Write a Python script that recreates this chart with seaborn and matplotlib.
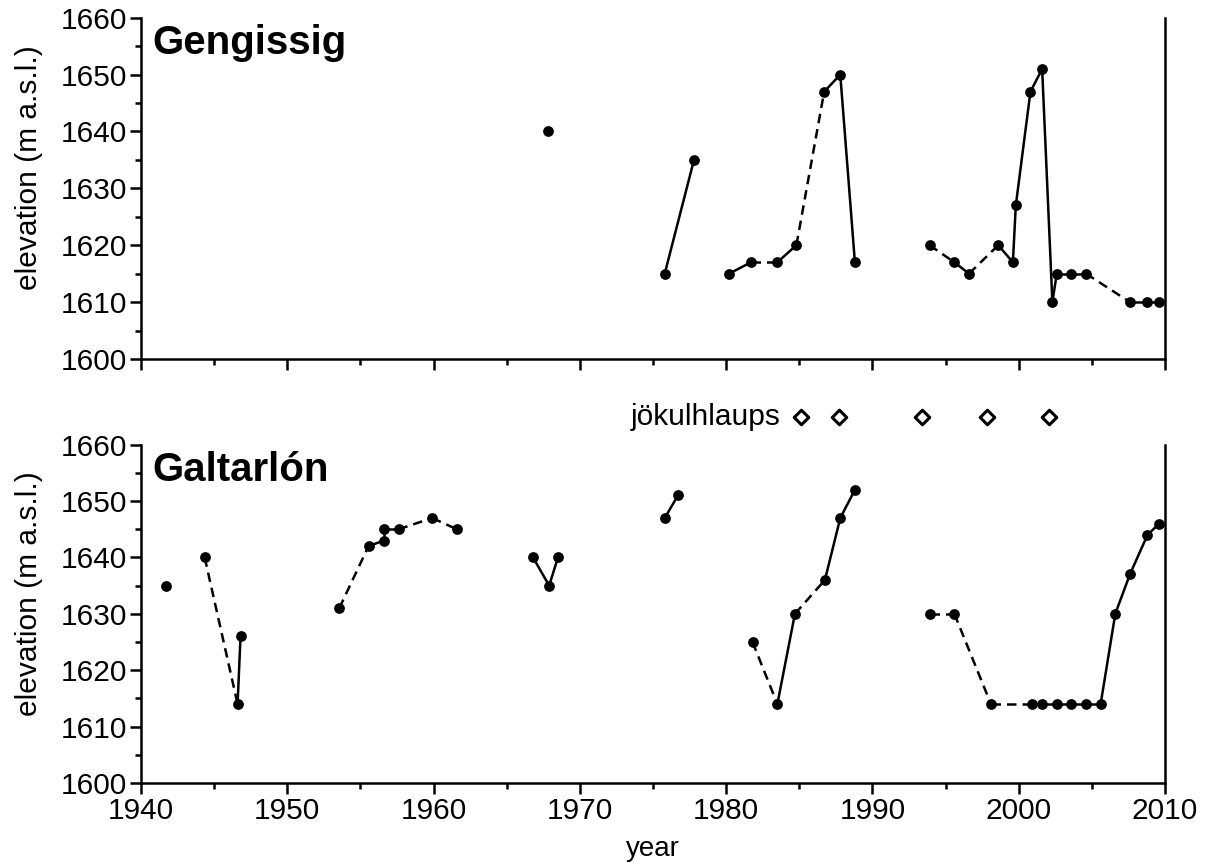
import numpy as np
import pandas as pd
import seaborn as sns
import matplotlib.pyplot as plt
from matplotlib.ticker import MultipleLocator

# Gengissig lake level
gen_years = [1967.8, 1975.8, 1977.8, 1980.2, 1981.7, 1983.5, 1984.8, 1986.7, 1987.8, 1988.8,
             1993.9, 1995.6, 1996.6, 1998.6, 1999.6, 1999.8, 2000.8, 2001.6, 2002.3, 2002.6,
             2003.6, 2004.6, 2007.6, 2008.8, 2009.6]
gen_elev = [1640, 1615, 1635, 1615, 1617, 1617, 1620, 1647, 1650, 1617,
            1620, 1617, 1615, 1620, 1617, 1627, 1647, 1651, 1610, 1615,
            1615, 1615, 1610, 1610, 1610]
# link between point i and i+1: 's' solid, 'd' dashed, '' no line
gen_links = ['', 's', '', 's', 'd', 's', 'd', 's', 's', '',
             'd', 's', 'd', 's', 's', 's', 's', 's', 's', 's',
             's', 'd', 's', 's']

# Galtarlon lake level
gal_years = [1941.7, 1944.35, 1946.6, 1946.8, 1953.55, 1955.55, 1956.6, 1956.6, 1957.6, 1959.9,
             1961.6, 1966.8, 1967.9, 1968.5, 1975.8, 1976.7, 1981.8, 1983.5, 1984.7, 1986.75,
             1987.8, 1988.8, 1993.9, 1995.6, 1998.1, 2000.9, 2001.6, 2002.6, 2003.6, 2004.6,
             2005.6, 2006.6, 2007.6, 2008.8, 2009.6]
gal_elev = [1635, 1640, 1614, 1626, 1631, 1642, 1643, 1645, 1645, 1647,
            1645, 1640, 1635, 1640, 1647, 1651, 1625, 1614, 1630, 1636,
            1647, 1652, 1630, 1630, 1614, 1614, 1614, 1614, 1614, 1614,
            1614, 1630, 1637, 1644, 1646]
gal_links = ['', 'd', 's', '', 'd', 's', 's', 's', 'd', 'd',
             '', 's', 's', '', 's', '', 'd', 's', 'd', 's',
             's', '', 'd', 'd', 'd', 's', 's', 's', 's', 's',
             's', 's', 's', 's']

jokulhlaup_years = [1985.1, 1987.7, 1993.4, 1997.8, 2002.1]


def link_frame(years, elev, links):
    rows = []
    for i, kind in enumerate(links):
        if not kind:
            continue
        for j in (i, i + 1):
            rows.append({'year': years[j], 'elev': elev[j], 'seg': i,
                         'link': 'solid' if kind == 's' else 'dashed'})
    return pd.DataFrame(rows)


sns.set_style("ticks")
plt.rcParams['font.family'] = ['Liberation Sans', 'DejaVu Sans']
plt.rcParams['axes.linewidth'] = 1.8
plt.rcParams['axes.edgecolor'] = 'black'
plt.rcParams['xtick.color'] = 'black'
plt.rcParams['ytick.color'] = 'black'
plt.rcParams['text.color'] = 'black'
plt.rcParams['axes.labelcolor'] = 'black'

fig = plt.figure(figsize=(12.18, 8.67), dpi=100)
ax_top = fig.add_axes([0.1158, 0.586, 0.8407, 0.3935])
ax_bot = fig.add_axes([0.1158, 0.097, 0.8407, 0.3900])


def draw_panel(ax, years, elev, links, name):
    seg = link_frame(years, elev, links)
    sns.lineplot(data=seg, x='year', y='elev', units='seg', style='link',
                 estimator=None, sort=False, color='black', linewidth=1.8,
                 dashes={'solid': '', 'dashed': (3.8, 2.4)}, legend=False, ax=ax)
    pts = pd.DataFrame({'year': years, 'elev': elev})
    sns.scatterplot(data=pts, x='year', y='elev', color='black', s=60,
                    edgecolor='black', linewidth=0, zorder=3, ax=ax)
    ax.set_xlim(1940, 2010)
    ax.set_ylim(1600, 1660)
    ax.xaxis.set_major_locator(MultipleLocator(10))
    ax.xaxis.set_minor_locator(MultipleLocator(5))
    ax.yaxis.set_major_locator(MultipleLocator(10))
    ax.yaxis.set_minor_locator(MultipleLocator(5))
    ax.tick_params(which='major', length=8, width=1.8, labelsize=21.5,
                   direction='out', pad=2)
    ax.tick_params(which='minor', length=4.5, width=1.8, direction='out')
    ax.spines['top'].set_visible(False)
    ax.spines['right'].set_visible(True)
    ax.set_ylabel('elevation (m a.s.l.)', fontsize=21.5)
    ax.yaxis.set_label_coords(-0.096, 0.56)
    ax.text(0.011, 0.925, name, transform=ax.transAxes, fontsize=29,
            fontweight='bold', ha='left', va='center')


draw_panel(ax_top, gen_years, gen_elev, gen_links, 'Gengissig')
draw_panel(ax_bot, gal_years, gal_elev, gal_links, 'Galtarlón')

ax_top.set_xlabel('')
ax_top.tick_params(axis='x', labelbottom=False)
ax_bot.set_xlabel('year', fontsize=20, labelpad=8)

# jokulhlaup markers between the panels
jk = pd.DataFrame({'year': jokulhlaup_years, 'elev': [1665] * len(jokulhlaup_years)})
sns.scatterplot(data=jk, x='year', y='elev', marker='D', s=55, facecolor='white',
                edgecolor='black', linewidth=2.2, clip_on=False, zorder=4, ax=ax_bot)
ax_bot.text(1983.7, 1665, 'jökulhlaups', fontsize=21.5, ha='right', va='center',
            clip_on=False)
ax_bot.set_ylim(1600, 1660)

fig.savefig('out.png', dpi=100)
